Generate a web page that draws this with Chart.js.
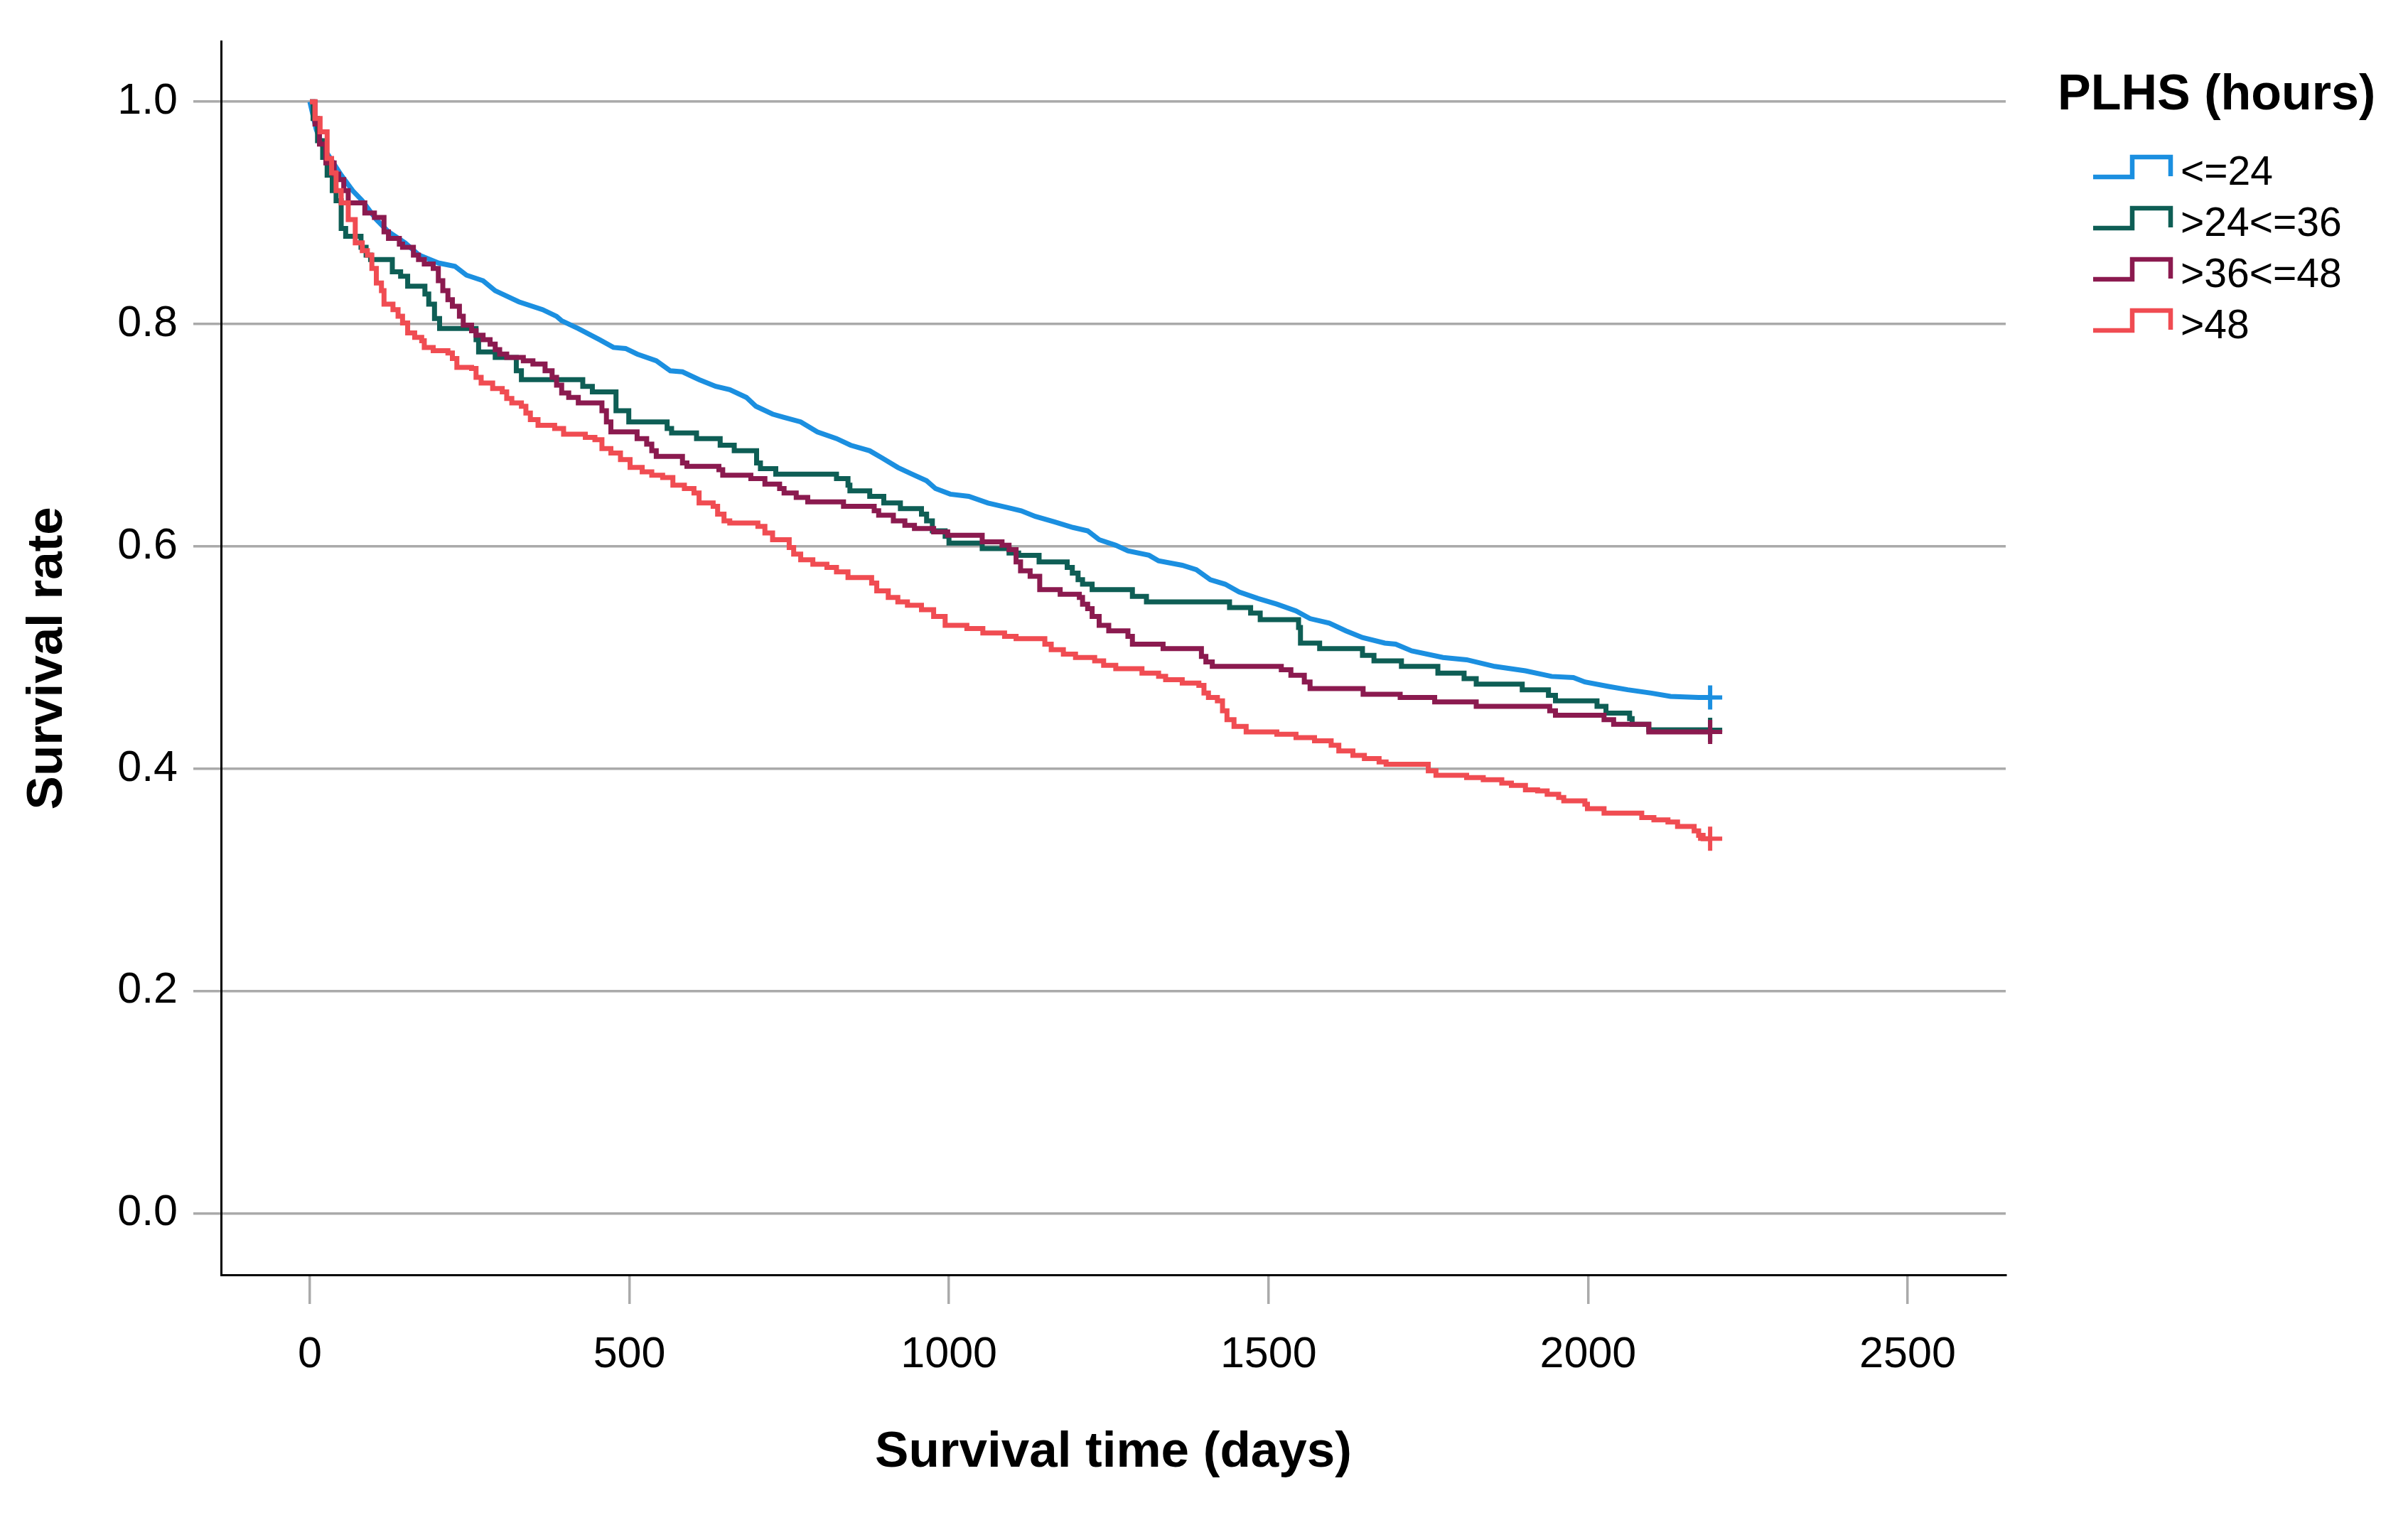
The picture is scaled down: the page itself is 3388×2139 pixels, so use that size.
<!DOCTYPE html>
<html>
<head>
<meta charset="utf-8">
<script src="https://cdn.jsdelivr.net/npm/chart.js@4.4.1/dist/chart.umd.min.js"></script>
<style>
html, body { margin: 0; padding: 0; background: #fff; }
#wrap { width: 3388px; height: 2139px; position: relative; }
</style>
</head>
<body>
<div id="wrap"><canvas id="km"></canvas></div>
<script>
const legendTitle = 'PLHS (hours)';
const groupLabels = ['<=24', '>24<=36', '>36<=48', '>48'];
const groupColors = ['#1b8fe0', '#0e5e55', '#8b1a4f', '#f04c52'];
const xTicks = [0, 500, 1000, 1500, 2000, 2500];
const yTicks = [0, 0.2, 0.4, 0.6, 0.8, 1.0];
const censorDay = 2191;

// [days, survival]
const kmLe24 = [
  [0, 1.0], [10, 0.975], [20, 0.96], [30, 0.951], [49, 0.934], [67, 0.92], [82, 0.911], [104, 0.894],
  [123, 0.883], [149, 0.873], [171, 0.862], [201, 0.855], [227, 0.852], [245, 0.844], [271, 0.839],
  [290, 0.830], [327, 0.820], [364, 0.813], [386, 0.807], [394, 0.803], [420, 0.796], [453, 0.786],
  [475, 0.779], [494, 0.778], [512, 0.773], [542, 0.767], [564, 0.758], [583, 0.757], [609, 0.750],
  [635, 0.744], [657, 0.741], [683, 0.734], [698, 0.726], [724, 0.719], [742, 0.716], [768, 0.712],
  [794, 0.703], [824, 0.697], [846, 0.691], [876, 0.686], [894, 0.680], [920, 0.671], [942, 0.665],
  [965, 0.659], [979, 0.652], [1002, 0.647], [1031, 0.645], [1061, 0.639], [1091, 0.635], [1113, 0.632],
  [1135, 0.627], [1165, 0.622], [1194, 0.617], [1217, 0.614], [1235, 0.606], [1261, 0.601], [1280, 0.596],
  [1313, 0.592], [1328, 0.587], [1365, 0.583], [1387, 0.579], [1409, 0.570], [1432, 0.566], [1454, 0.559],
  [1484, 0.553], [1513, 0.548], [1543, 0.542], [1565, 0.535], [1595, 0.531], [1621, 0.524], [1647, 0.518],
  [1682, 0.513], [1699, 0.512], [1724, 0.506], [1773, 0.500], [1810, 0.498], [1854, 0.492], [1902, 0.488],
  [1943, 0.483], [1977, 0.482], [1995, 0.478], [2032, 0.474], [2062, 0.471], [2099, 0.468], [2129, 0.465],
  [2173, 0.464], [2191, 0.464]
];
const km24to36 = [
  [0, 1.0], [5, 0.985], [12, 0.965], [20, 0.95], [27, 0.934], [35, 0.92], [41, 0.911], [49, 0.886],
  [56, 0.879], [80, 0.869], [88, 0.862], [95, 0.858], [129, 0.847], [142, 0.843], [153, 0.834],
  [180, 0.827], [186, 0.818], [195, 0.805], [203, 0.796], [260, 0.786], [264, 0.775], [290, 0.770],
  [323, 0.758], [331, 0.750], [427, 0.744], [442, 0.739], [479, 0.722], [499, 0.712], [559, 0.706],
  [566, 0.702], [605, 0.697], [642, 0.691], [664, 0.686], [699, 0.675], [705, 0.670], [729, 0.665],
  [824, 0.661], [842, 0.655], [845, 0.650], [876, 0.645], [898, 0.639], [924, 0.634], [957, 0.629],
  [965, 0.623], [974, 0.614], [994, 0.609], [1000, 0.603], [1052, 0.598], [1094, 0.594], [1109, 0.592],
  [1141, 0.586], [1185, 0.581], [1193, 0.576], [1202, 0.570], [1209, 0.566], [1224, 0.561], [1287, 0.555],
  [1309, 0.550], [1439, 0.545], [1472, 0.540], [1487, 0.534], [1547, 0.527], [1550, 0.513], [1580, 0.508],
  [1647, 0.502], [1665, 0.497], [1708, 0.492], [1765, 0.486], [1806, 0.481], [1825, 0.476], [1897, 0.471],
  [1938, 0.466], [1949, 0.461], [2014, 0.456], [2028, 0.450], [2065, 0.445], [2069, 0.440], [2095, 0.435],
  [2191, 0.435]
];
const km36to48 = [
  [0, 1.0], [8, 0.98], [15, 0.962], [25, 0.945], [38, 0.935], [45, 0.93], [53, 0.920], [60, 0.909],
  [86, 0.900], [101, 0.896], [116, 0.883], [123, 0.877], [140, 0.872], [145, 0.869], [162, 0.862],
  [170, 0.858], [179, 0.854], [193, 0.850], [201, 0.839], [208, 0.830], [216, 0.822], [223, 0.816],
  [234, 0.807], [240, 0.799], [253, 0.794], [260, 0.790], [271, 0.786], [282, 0.782], [290, 0.777],
  [297, 0.773], [308, 0.770], [334, 0.767], [349, 0.764], [368, 0.758], [379, 0.752], [386, 0.745],
  [394, 0.738], [405, 0.734], [420, 0.729], [457, 0.722], [464, 0.712], [471, 0.703], [512, 0.697],
  [527, 0.692], [535, 0.686], [542, 0.681], [583, 0.675], [590, 0.672], [640, 0.669], [646, 0.664],
  [690, 0.661], [712, 0.656], [735, 0.652], [742, 0.648], [761, 0.644], [779, 0.640], [835, 0.636],
  [883, 0.632], [890, 0.628], [913, 0.623], [931, 0.619], [946, 0.616], [976, 0.613], [998, 0.610],
  [1052, 0.604], [1083, 0.601], [1094, 0.597], [1105, 0.586], [1112, 0.578], [1127, 0.573], [1142, 0.561],
  [1174, 0.557], [1204, 0.554], [1209, 0.548], [1217, 0.544], [1224, 0.537], [1235, 0.529], [1250, 0.524],
  [1280, 0.519], [1287, 0.512], [1335, 0.508], [1395, 0.501], [1402, 0.496], [1412, 0.492], [1520, 0.489],
  [1535, 0.484], [1556, 0.478], [1565, 0.472], [1648, 0.467], [1706, 0.464], [1760, 0.460], [1825, 0.456],
  [1940, 0.452], [1949, 0.448], [2025, 0.444], [2040, 0.440], [2095, 0.433], [2191, 0.433]
];
const kmGt48 = [
  [0, 1.0], [8, 0.985], [16, 0.973], [27, 0.949], [34, 0.936], [41, 0.920], [49, 0.909], [60, 0.894],
  [71, 0.873], [82, 0.866], [90, 0.862], [97, 0.850], [104, 0.837], [112, 0.830], [116, 0.818],
  [130, 0.813], [138, 0.807], [145, 0.801], [153, 0.792], [164, 0.788], [175, 0.785], [179, 0.779],
  [193, 0.776], [216, 0.774], [223, 0.769], [230, 0.761], [253, 0.760], [260, 0.752], [268, 0.747],
  [286, 0.742], [301, 0.739], [308, 0.733], [316, 0.729], [331, 0.726], [338, 0.720], [345, 0.714],
  [357, 0.709], [383, 0.706], [397, 0.701], [431, 0.698], [446, 0.696], [457, 0.688], [471, 0.684],
  [486, 0.678], [501, 0.671], [520, 0.667], [535, 0.664], [552, 0.662], [568, 0.655], [586, 0.652],
  [601, 0.648], [609, 0.639], [631, 0.636], [638, 0.629], [648, 0.623], [657, 0.621], [701, 0.618],
  [712, 0.612], [724, 0.606], [750, 0.599], [757, 0.593], [768, 0.588], [787, 0.584], [809, 0.581],
  [824, 0.577], [842, 0.572], [879, 0.567], [887, 0.560], [905, 0.554], [920, 0.550], [935, 0.547],
  [957, 0.543], [976, 0.537], [994, 0.529], [1028, 0.526], [1053, 0.522], [1087, 0.519], [1105, 0.517],
  [1150, 0.512], [1160, 0.507], [1179, 0.503], [1198, 0.500], [1228, 0.497], [1242, 0.493], [1261, 0.490],
  [1302, 0.486], [1328, 0.483], [1339, 0.480], [1365, 0.477], [1391, 0.475], [1399, 0.468], [1406, 0.464],
  [1420, 0.461], [1428, 0.452], [1435, 0.444], [1446, 0.438], [1465, 0.433], [1513, 0.431], [1543, 0.428],
  [1572, 0.425], [1598, 0.421], [1610, 0.416], [1632, 0.412], [1650, 0.409], [1673, 0.406], [1684, 0.404],
  [1750, 0.398], [1762, 0.394], [1810, 0.392], [1836, 0.390], [1865, 0.387], [1880, 0.385], [1902, 0.381],
  [1921, 0.380], [1936, 0.377], [1954, 0.374], [1962, 0.371], [1995, 0.368], [1999, 0.364], [2025, 0.360],
  [2084, 0.356], [2103, 0.354], [2125, 0.352], [2140, 0.348], [2166, 0.344], [2173, 0.340], [2180, 0.337],
  [2191, 0.337]
];

const FONT = '"Liberation Sans", Arial, Helvetica, sans-serif';
const GRID = '#aaaaaa';

function mkSeries(label, pts, color, stepped, order) {
  return {
    label: label,
    data: pts.map(p => ({ x: p[0], y: p[1] })),
    borderColor: color,
    backgroundColor: color,
    borderWidth: 7,
    stepped: stepped,
    tension: 0,
    fill: false,
    order: order,
    pointStyle: 'cross',
    pointBorderWidth: 6,
    pointRadius: c => (c.raw && c.raw.x === censorDay ? 17 : 0),
    pointHoverRadius: 0
  };
}

// legend drawn as in the SPSS output: step glyph + label, title on top
const kmLegend = {
  id: 'kmLegend',
  afterDraw(chart) {
    const c = chart.ctx;
    c.save();
    c.fillStyle = '#000';
    c.textAlign = 'left';
    c.textBaseline = 'middle';
    c.font = 'bold 70px ' + FONT;
    c.fillText(legendTitle, 2895, 135);
    c.font = '57px ' + FONT;
    c.lineWidth = 6.5;
    groupLabels.forEach((lab, i) => {
      const y = 244 + i * 72;
      c.strokeStyle = groupColors[i];
      c.beginPath();
      c.moveTo(2945, y + 5);
      c.lineTo(3000, y + 5);
      c.lineTo(3000, y - 23);
      c.lineTo(3054, y - 23);
      c.lineTo(3054, y + 4);
      c.stroke();
      c.fillText(lab, 3068, y);
    });
    c.restore();
  }
};

new Chart(document.getElementById('km'), {
  type: 'line',
  data: {
    datasets: [
      mkSeries(groupLabels[0], kmLe24, groupColors[0], false, 4),
      mkSeries(groupLabels[1], km24to36, groupColors[1], true, 3),
      mkSeries(groupLabels[2], km36to48, groupColors[2], true, 2),
      mkSeries(groupLabels[3], kmGt48, groupColors[3], true, 1)
    ]
  },
  options: {
    responsive: true,
    maintainAspectRatio: false,
    animation: false,
    layout: { padding: { top: 52, right: 566, bottom: 0, left: 0 } },
    plugins: { legend: { display: false }, tooltip: { enabled: false } },
    scales: {
      x: {
        type: 'linear',
        min: -139,
        max: 2653.5,
        afterBuildTicks: s => { s.ticks = xTicks.map(v => ({ value: v })); },
        afterFit: s => { s.height = 345; },
        grid: { drawOnChartArea: false, color: GRID, lineWidth: 3.5, tickLength: 41 },
        border: { display: true, color: '#000', width: 3 },
        ticks: { color: '#000', font: { family: FONT, size: 61 }, padding: 36, maxRotation: 0, autoSkip: false, callback: v => String(v) },
        title: { display: true, text: 'Survival time (days)', color: '#000', font: { family: FONT, size: 71, weight: 'bold' }, padding: { top: 0, bottom: 52 } }
      },
      y: {
        min: -0.0554,
        max: 1.0541,
        afterBuildTicks: s => { s.ticks = yTicks.map(v => ({ value: v })); },
        afterFit: s => { s.width = 311; },
        grid: { color: GRID, lineWidth: 3.5, tickLength: 39 },
        border: { display: true, color: '#000', width: 3 },
        ticks: { color: '#000', font: { family: FONT, size: 61 }, padding: 22, autoSkip: false, callback: v => v.toFixed(1) },
        title: { display: true, text: 'Survival rate', color: '#000', font: { family: FONT, size: 71, weight: 'bold' }, padding: { top: 25, bottom: 0 } }
      }
    }
  },
  plugins: [kmLegend]
});
</script>
</body>
</html>
